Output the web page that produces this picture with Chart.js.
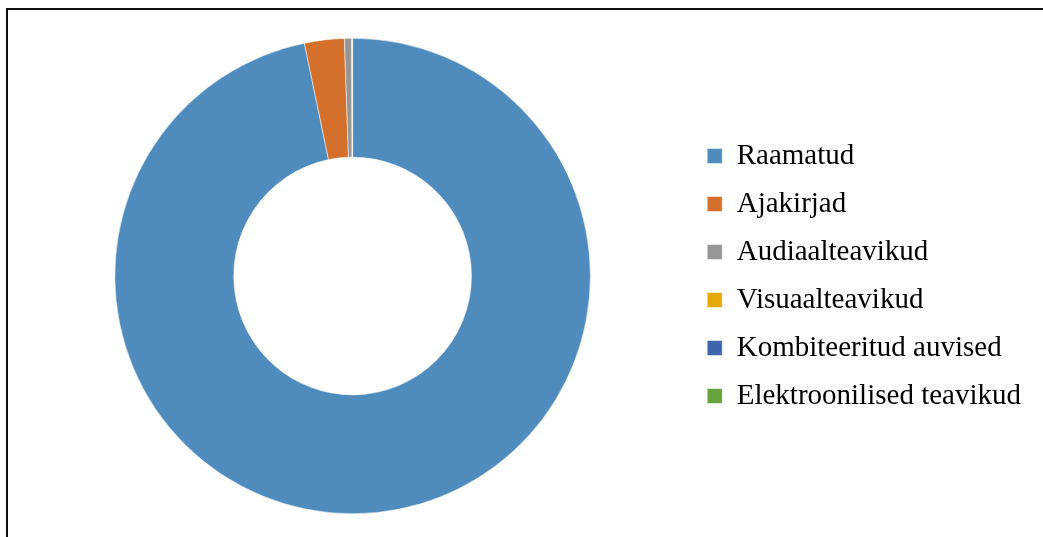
<!DOCTYPE html>
<html>
<head>
<meta charset="utf-8">
<script src="https://cdn.jsdelivr.net/npm/chart.js@4"></script>
<style>
  html, body { margin: 0; padding: 0; background: #fff; overflow: hidden; }
  #wrap { position: relative; width: 1043px; height: 537px; }
  #frame { position: absolute; left: 6px; top: 8px; width: 1100px; height: 600px;
           border-left: 2px solid #111; border-top: 2px solid #111; box-sizing: border-box; }
  canvas { position: absolute; left: 0; top: 0; }
</style>
</head>
<body>
<div id="wrap">
  <div id="frame"></div>
  <canvas id="c" width="1043" height="537"></canvas>
</div>
<script>
const categories = ["Raamatud", "Ajakirjad", "Audiaalteavikud", "Visuaalteavikud", "Kombiteeritud auvised", "Elektroonilised teavikud"];
const shares = [96.75, 2.7, 0.5, 0.02, 0.01, 0.02];
const colors = ["#4F8BBD", "#D4702C", "#969696", "#E3AA05", "#3E64AC", "#65A13D"];

new Chart(document.getElementById("c"), {
  type: "doughnut",
  data: {
    labels: categories,
    datasets: [{
      data: shares,
      backgroundColor: colors,
      borderColor: "#ffffff",
      borderWidth: 0.5
    }]
  },
  options: {
    responsive: false,
    devicePixelRatio: 1,
    animation: false,
    cutout: "50%",
    layout: { padding: { left: 17, right: 12, top: 38, bottom: 23 } },
    plugins: {
      tooltip: { enabled: false },
      legend: {
        position: "right",
        align: "center",
        labels: {
          boxWidth: 15,
          boxHeight: 15,
          padding: 19,
          color: "#000",
          font: { family: "'Liberation Serif', 'Times New Roman', serif", size: 29 }
        }
      }
    }
  }
});
</script>
</body>
</html>
